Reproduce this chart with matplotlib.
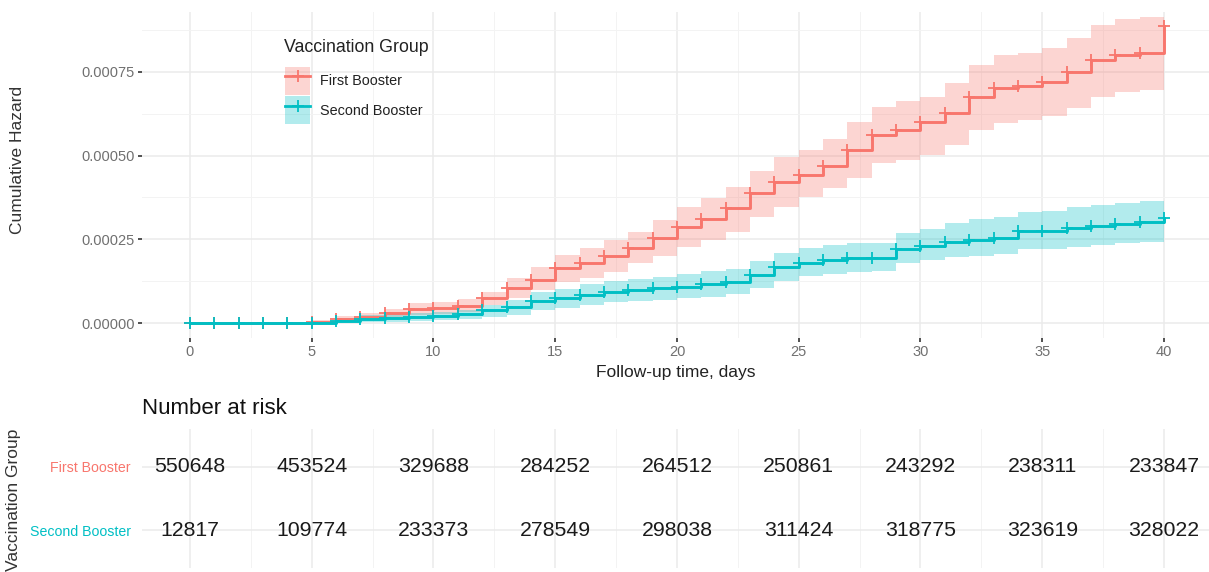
import matplotlib
matplotlib.use("Agg")
import matplotlib.pyplot as plt
from matplotlib.lines import Line2D
from matplotlib.patches import Patch
from matplotlib.ticker import MultipleLocator, FormatStrFormatter
import numpy as np

plt.rcParams['font.family'] = ['Liberation Sans', 'DejaVu Sans']

# follow-up days and cumulative hazard (x 1e-5)
days = np.arange(0, 41)

first_haz = [0, 0, 0, 0, 0, 0.4, 1.1, 1.7, 2.9, 4.1, 4.4, 5.1, 7.4, 10.4, 12.8, 16.3,
             17.8, 20.0, 22.3, 25.3, 28.8, 31.2, 34.3, 38.7, 42.2, 44.2, 46.9, 51.7,
             56.2, 57.6, 60.1, 62.7, 67.6, 70.1, 70.8, 72.1, 75.1, 78.6, 80.2, 80.8, 88.7]
first_lo = [0, 0, 0, 0, 0, 0.1, 0.4, 0.7, 1.4, 2.4, 2.7, 3.4, 5.4, 7.6, 9.9, 12.3,
            13.3, 15.3, 17.8, 20.0, 22.8, 24.9, 27.3, 31.8, 34.7, 37.7, 40.2, 43.2,
            47.7, 48.7, 50.2, 53.2, 57.6, 59.6, 60.6, 61.8, 64.1, 67.4, 69.1, 69.6, 69.6]
first_hi = [0, 0, 0, 0, 0, 0.8, 2.0, 2.9, 4.1, 5.9, 6.4, 7.1, 9.4, 13.5, 16.8, 20.3,
            22.3, 24.8, 27.3, 30.8, 34.6, 37.2, 40.7, 45.5, 49.5, 51.7, 54.9, 60.1,
            64.6, 66.4, 67.6, 71.6, 77.1, 80.0, 80.8, 82.0, 85.0, 89.0, 90.7, 91.5, 91.5]

second_haz = [0, 0, 0, 0, 0, 0.1, 0.7, 1.2, 1.4, 1.7, 2.1, 2.7, 3.8, 4.8, 6.7, 7.4,
              8.4, 9.4, 9.9, 10.4, 10.8, 11.6, 12.3, 14.3, 16.6, 18.0, 18.8, 19.3,
              19.5, 22.1, 23.0, 24.3, 24.8, 25.5, 27.5, 27.5, 28.3, 29.0, 29.6, 30.2, 31.4]
second_lo = [0, 0, 0, 0, 0, 0, 0.2, 0.3, 0.4, 0.6, 0.9, 1.1, 1.7, 2.4, 3.9, 4.6,
             5.4, 6.2, 6.6, 7.0, 7.4, 7.9, 8.8, 10.6, 12.6, 14.0, 14.6, 15.2,
             15.4, 18.0, 18.8, 19.6, 20.0, 20.5, 22.0, 22.1, 22.6, 23.2, 23.8, 24.2, 24.2]
second_hi = [0, 0, 0, 0, 0, 0.3, 1.5, 2.5, 2.6, 3.0, 3.4, 4.0, 5.5, 7.0, 9.2, 10.3,
             11.6, 12.6, 13.2, 13.8, 14.6, 15.6, 16.2, 18.6, 20.8, 22.4, 23.4, 23.8,
             24.0, 27.0, 28.2, 30.0, 31.0, 31.6, 33.2, 33.6, 34.6, 35.2, 35.8, 36.4, 36.4]

groups = ["First Booster", "Second Booster"]
colors = ["#F8766D", "#00BFC4"]

# number at risk table
risk_times = [0, 5, 10, 15, 20, 25, 30, 35, 40]
risk_first = [550648, 453524, 329688, 284252, 264512, 250861, 243292, 238311, 233847]
risk_second = [12817, 109774, 233373, 278549, 298038, 311424, 318775, 323619, 328022]

W, H = 1209, 572
fig = plt.figure(figsize=(W / 100, H / 100), dpi=100)

x0, x1 = 142, 1209
xlim = (-1.97, 41.85)

# ---- cumulative hazard panel
ax = fig.add_axes([x0 / W, 1 - 338 / H, (x1 - x0) / W, (338 - 12) / H])
series = [(first_haz, first_lo, first_hi), (second_haz, second_lo, second_hi)]
for (haz, lo, hi), col in zip(series, colors):
    ax.fill_between(days, np.array(lo) * 1e-5, np.array(hi) * 1e-5, step='post',
                    color=col, alpha=0.3, lw=0)
for (haz, lo, hi), col in zip(series, colors):
    haz = np.array(haz) * 1e-5
    ax.step(days, haz, where='post', color=col, lw=2.1)
    ax.plot(days, haz, '+', color=col, ms=8, mew=1.3)

ax.set_xlim(*xlim)
ax.set_ylim(-4.48e-5, 9.29e-4)
ax.xaxis.set_major_locator(MultipleLocator(5))
ax.xaxis.set_minor_locator(MultipleLocator(2.5))
ax.yaxis.set_major_locator(MultipleLocator(0.00025))
ax.yaxis.set_minor_locator(MultipleLocator(0.000125))
ax.yaxis.set_major_formatter(FormatStrFormatter('%.5f'))
ax.grid(which='major', color='#EBEBEB', lw=1.1)
ax.grid(which='minor', color='#F3F3F3', lw=0.7)
ax.set_axisbelow(True)
for s in ax.spines.values():
    s.set_visible(False)
ax.tick_params(which='major', length=3, width=1.2, color='#333333',
               labelsize=10.5, labelcolor='#707070', pad=2)
ax.tick_params(which='minor', length=0)

fig.text(18 / W, 1 - 160 / H, "Cumulative Hazard", rotation=90, ha='center',
         va='center', fontsize=12.5, color='#333333')
fig.text(676 / W, 1 - 372 / H, "Follow-up time, days", ha='center', va='center',
         fontsize=12.5, color='#222222')

# legend: title as its own text, keys below it
fig.text(284 / W, 1 - 48 / H, "Vaccination Group", ha='left', va='center',
         fontsize=12.8, color='#222222')
handles = [(Patch(facecolor=c, alpha=0.3, lw=0),
            Line2D([], [], color=c, lw=2, marker='+', ms=8, mew=1.3)) for c in colors]
leg = fig.legend(handles, groups, loc='upper left',
                 bbox_to_anchor=(285 / W, 1 - 67 / H), frameon=False,
                 fontsize=10.4, handlelength=1.75, handleheight=2.6,
                 labelspacing=0.1, handletextpad=0.7, borderpad=0,
                 borderaxespad=0)
for t in leg.get_texts():
    t.set_color('#222222')

# ---- risk table
ax2 = fig.add_axes([x0 / W, 1 - 568 / H, (x1 - x0) / W, (568 - 429) / H])
ax2.set_xlim(*xlim)
ax2.set_ylim(0.4, 2.6)
for row, counts in zip([2, 1], [risk_first, risk_second]):
    for t, n in zip(risk_times, counts):
        ax2.text(t, row, str(n), ha='center', va='center', fontsize=15.3, color='#1a1a1a')
ax2.xaxis.set_major_locator(MultipleLocator(5))
ax2.xaxis.set_minor_locator(MultipleLocator(2.5))
ax2.set_yticks([2, 1])
ax2.set_yticklabels(groups)
for lbl, c in zip(ax2.get_yticklabels(), colors):
    lbl.set_color(c)
ax2.tick_params(axis='y', length=0, labelsize=10.2, pad=8)
ax2.tick_params(axis='x', which='both', length=0, labelbottom=False)
ax2.grid(which='major', color='#EBEBEB', lw=1.1)
ax2.grid(which='minor', axis='x', color='#F3F3F3', lw=0.7)
ax2.set_axisbelow(True)
for s in ax2.spines.values():
    s.set_visible(False)

fig.text(x0 / W, 1 - 408 / H, "Number at risk", ha='left', va='center',
         fontsize=16, color='#111111')
fig.text(14 / W, 1 - 500 / H, "Vaccination Group", rotation=90, ha='center',
         va='center', fontsize=12.5, color='#333333')

fig.savefig("out.png", dpi=100)
